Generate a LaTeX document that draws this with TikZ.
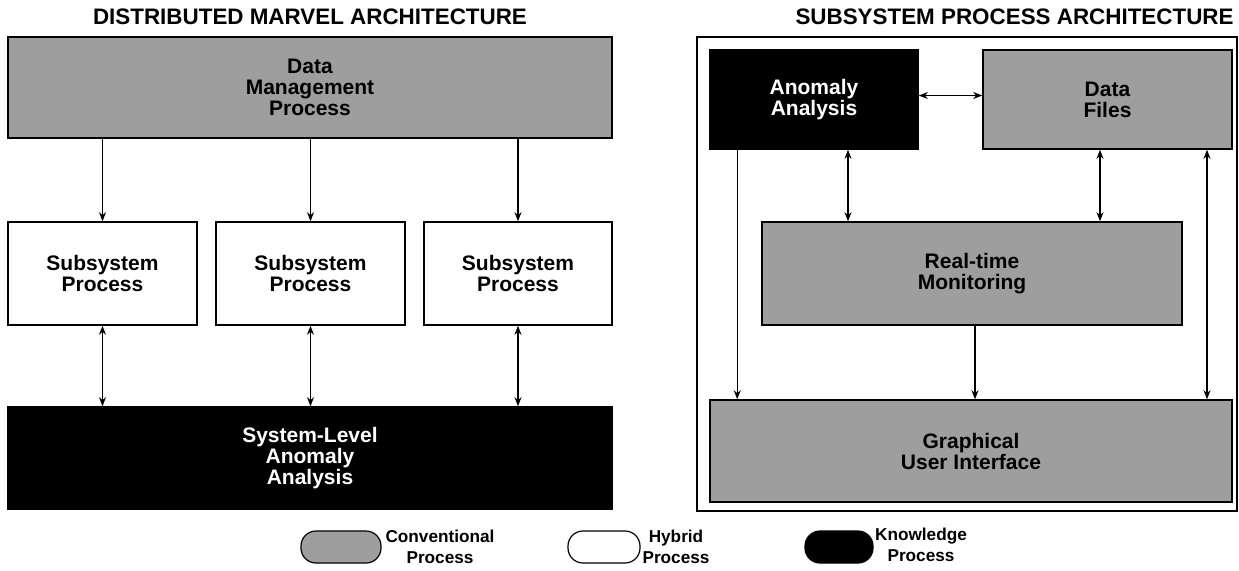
\documentclass[tikz,border=0pt]{standalone}
\usepackage{fontspec}
\setmainfont{Liberation Sans}
\usetikzlibrary{arrows.meta}
\begin{document}
\begin{tikzpicture}[x=0.5pt,y=-0.5pt,
 box/.style={draw=black, line width=0.8pt, inner sep=0pt, align=center, font=\bfseries\fontsize{10.5}{10.5}\selectfont},
 conv/.style={box, fill=black!38},
 hyb/.style={box, fill=white},
 know/.style={box, fill=black, text=white},
 frm/.style={draw=black, line width=0.7pt, inner sep=0pt},
 arr/.style={-{Stealth[length=4.5pt,width=3.5pt]}, line width=0.6pt},
 darr/.style={{Stealth[length=4.5pt,width=3.5pt]}-{Stealth[length=4.5pt,width=3.5pt]}, line width=0.6pt},
 ttl/.style={font=\bfseries\fontsize{11.2}{11.2}\selectfont, inner sep=0pt},
 leg/.style={draw, line width=0.6pt, rounded corners=7.5pt, minimum height=16pt, inner sep=0pt},
 legtxt/.style={align=center, inner sep=0pt, font=\bfseries\fontsize{8.6}{10.5}\selectfont}
]
\useasboundingbox (0,0) rectangle (1239,570);

% ---------- left: distributed architecture ----------
\node[ttl] (t1) at (310,17) {DISTRIBUTED MARVEL ARCHITECTURE};
\node[conv, minimum width=302pt, minimum height=50.5pt] (dm) at (310,87.5) {Data\\Management\\Process};
\node[hyb, minimum width=94.5pt, minimum height=51.5pt] (s1) at (102.5,273.5) {Subsystem\\Process};
\node[hyb, minimum width=94.5pt, minimum height=51.5pt] (s2) at (310.5,273.5) {Subsystem\\Process};
\node[hyb, minimum width=94pt, minimum height=51.5pt] (s3) at (518,273.5) {Subsystem\\Process};
\node[know, minimum width=302pt, minimum height=51pt] (sl) at (310,458) {System-Level\\Anomaly\\Analysis};

\foreach \s in {s1,s2,s3}{
  \draw[arr] (\s.north |- dm.south) -- (\s.north);
  \draw[darr] (\s.south) -- (\s.south |- sl.north);
}

% ---------- right: subsystem process architecture ----------
\node[ttl, anchor=east] (t2) at (1234,17) {SUBSYSTEM PROCESS ARCHITECTURE};
\node[frm, minimum width=270pt, minimum height=237pt] (fr) at (967,274) {};
\node[know, minimum width=104pt, minimum height=49.5pt] (aa) at (814,99.5) {Anomaly\\Analysis};
\node[conv, minimum width=124.5pt, minimum height=49.5pt] (df) at (1107.5,99.5) {Data\\Files};
\node[conv, minimum width=210pt, minimum height=51.5pt] (rtm) at (972,273.5) {Real-time\\Monitoring};
\node[conv, minimum width=261pt, minimum height=51pt] (gui) at (971,451) {Graphical\\User Interface};

\draw[darr] ([yshift=2pt]aa.east) -- ([yshift=2pt]df.west);
\draw[arr] ([xshift=14pt]aa.south west) -- ([xshift=14pt]aa.south west |- gui.north);
\draw[darr] ([xshift=17pt]aa.south) -- ([xshift=17pt]aa.south |- rtm.north);
\draw[darr] ([xshift=-3.75pt]df.south) -- ([xshift=-3.75pt]df.south |- rtm.north);
\draw[arr] ([xshift=1.5pt]rtm.south) -- ([xshift=1.5pt]rtm.south |- gui.north);
\draw[darr] ([xshift=49.75pt]df.south) -- ([xshift=49.75pt]df.south |- gui.north);

% ---------- legend ----------
\node[leg, fill=black!38, minimum width=40pt] (l1) at (341,547) {};
\node[legtxt] (l1t) at (440,547) {Conventional\\Process};
\node[leg, fill=white, minimum width=36pt] (l2) at (604,547) {};
\node[legtxt] (l2t) at (676,547) {Hybrid\\Process};
\node[leg, fill=black, minimum width=34pt] (l3) at (839,547) {};
\node[legtxt] (l3t) at (921,545) {Knowledge\\Process};
\end{tikzpicture}
\end{document}
